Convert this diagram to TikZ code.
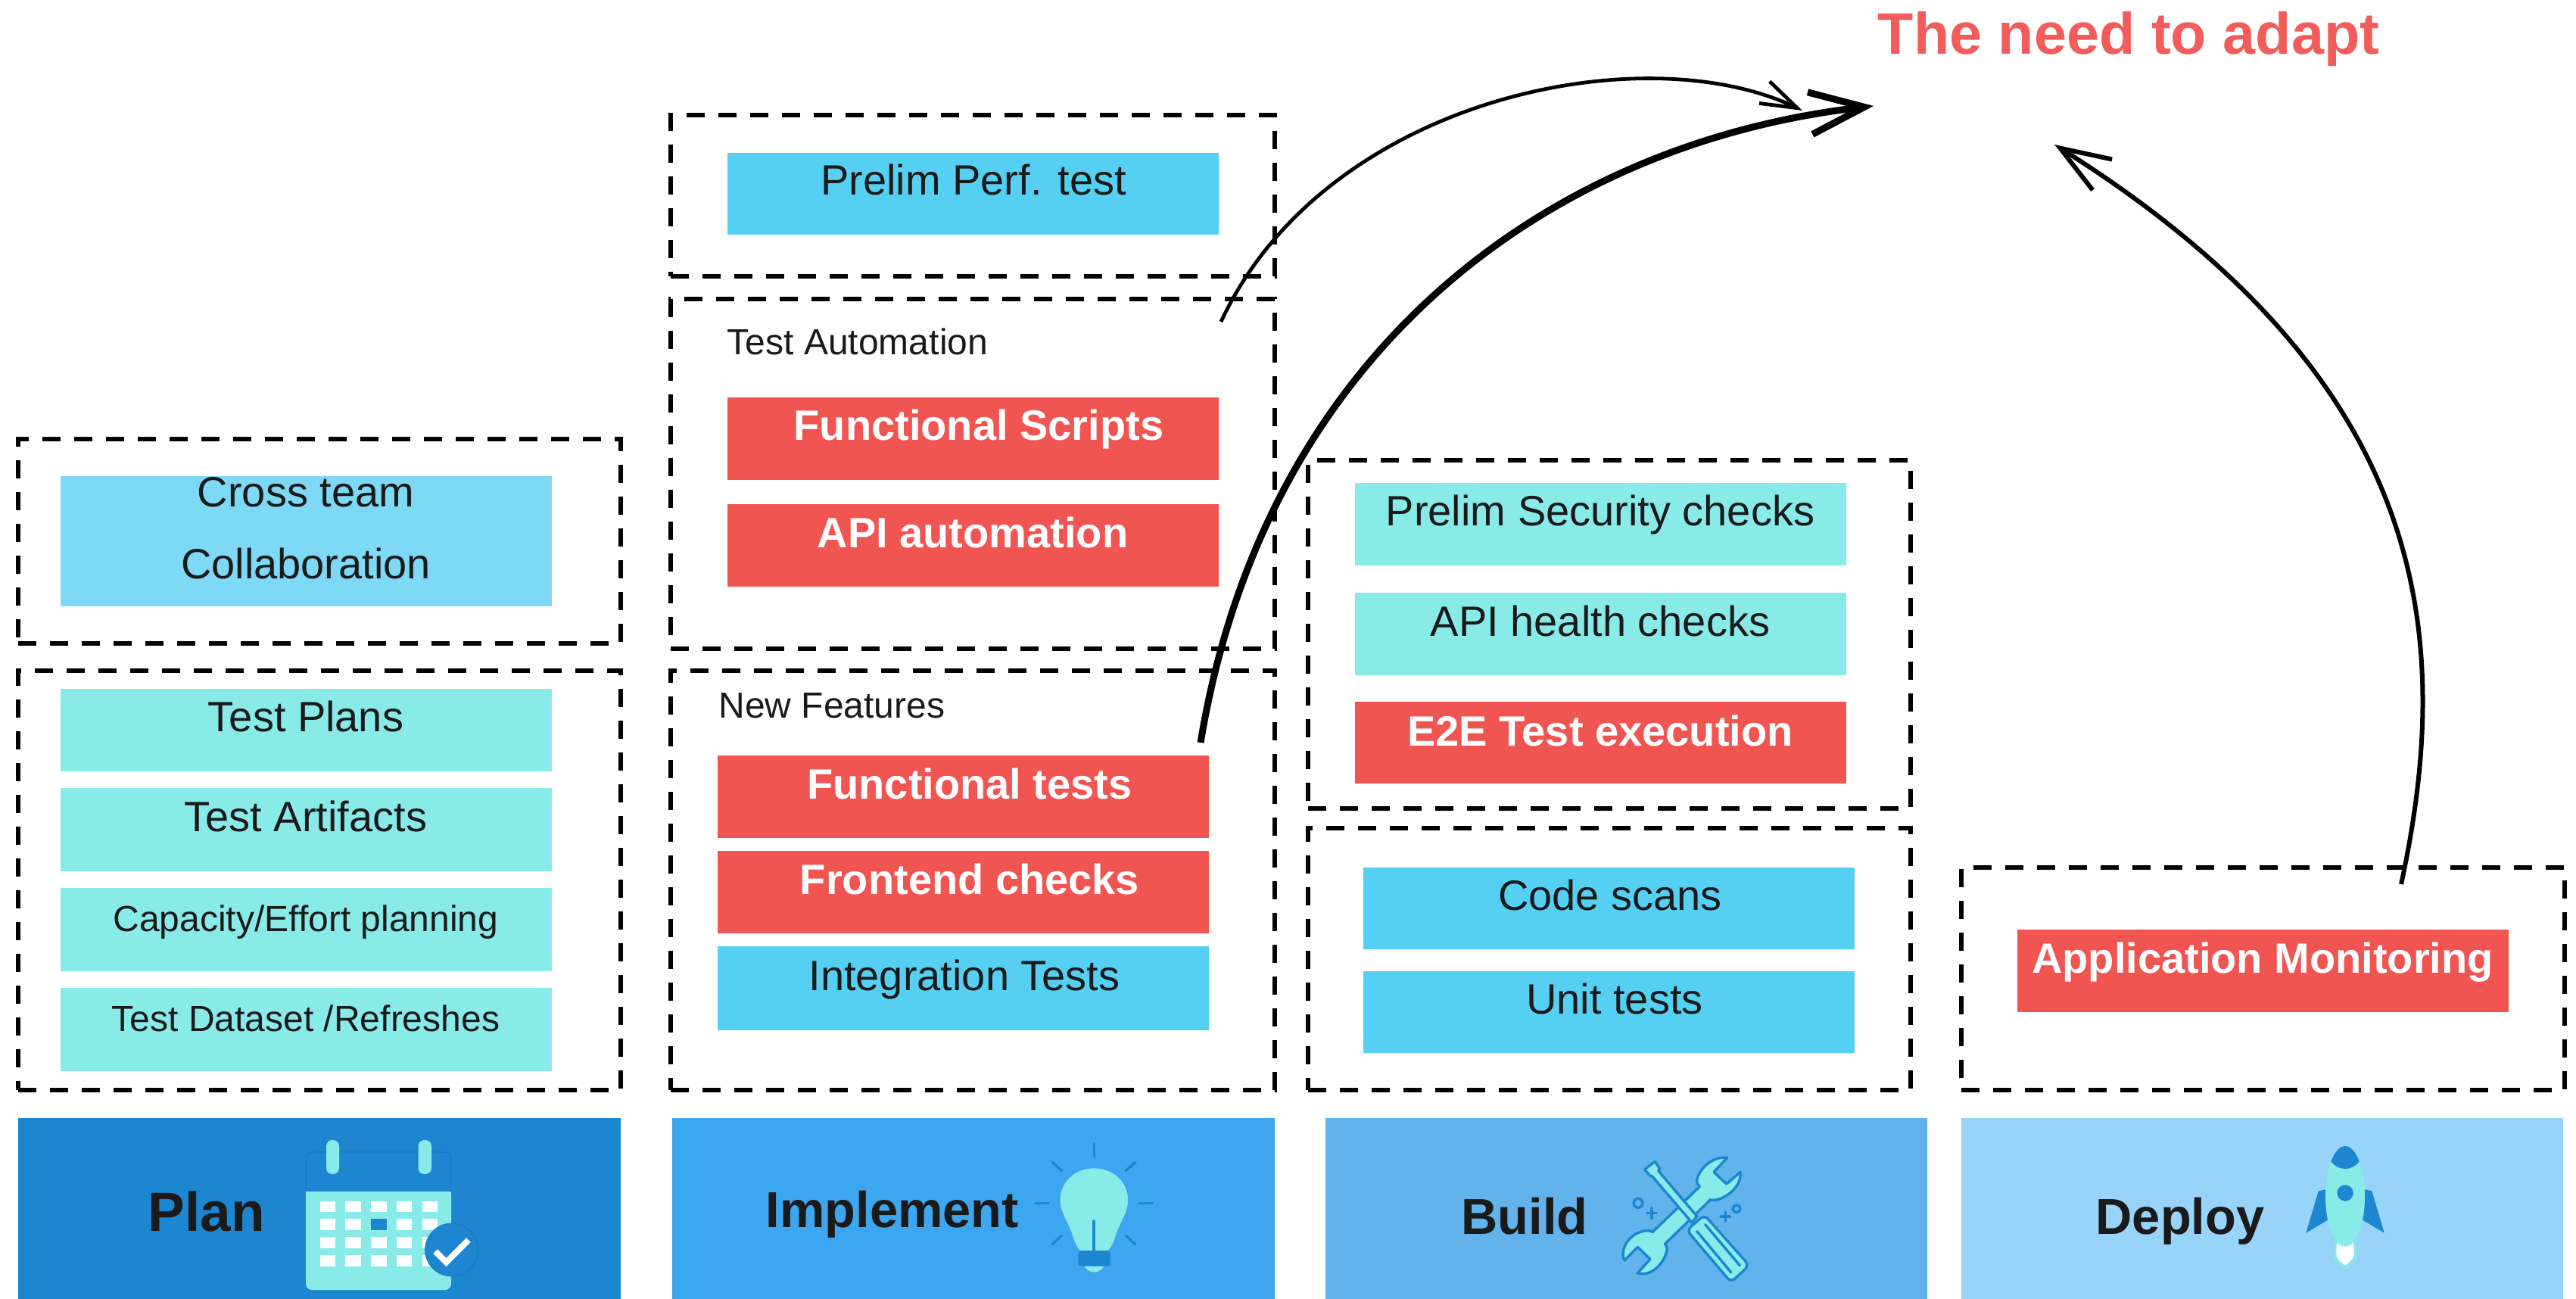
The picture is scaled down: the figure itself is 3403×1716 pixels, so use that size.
\documentclass[tikz,border=0pt]{standalone}
\usepackage{fontspec}
\setmainfont{Liberation Sans}
\usetikzlibrary{arrows.meta}
\definecolor{barA}{HTML}{1C87D0}
\definecolor{barB}{HTML}{3DA6F0}
\definecolor{barC}{HTML}{62B2EC}
\definecolor{barD}{HTML}{98D3FA}
\definecolor{tealbox}{HTML}{88EBE8}
\definecolor{bluebox}{HTML}{56D0F2}
\definecolor{lightbox}{HTML}{7DD9F5}
\definecolor{redbox}{HTML}{F05552}
\definecolor{titlered}{HTML}{F25C5A}
\definecolor{ink}{HTML}{1A1A1A}
\tikzset{
  blockbox/.style={anchor=north west,inner sep=0pt,outer sep=0pt,draw=none,fill=#1},
  dashbox/.style={anchor=north west,inner sep=0pt,outer sep=0pt,draw=black,line width=2.6pt,dash pattern=on 12pt off 9pt},
  txt/.style={anchor=base,text=ink,inner sep=0pt,font=\fontsize{28}{30}\selectfont},
  smalltxt/.style={txt,font=\fontsize{24}{26}\selectfont},
  boldtxt/.style={anchor=base,text=white,inner sep=0pt,font=\fontsize{28}{30}\selectfont\bfseries},
  headtxt/.style={anchor=base,text=ink,inner sep=0pt,font=\fontsize{33.4}{40}\selectfont\bfseries},
  iconline/.style={draw=barA,line width=1.7pt,line cap=round,line join=round},
}
\newcommand{\rbox}[6]{\node[#6,minimum width={(#4-#2)*0.5pt},minimum height={(#5-#3)*0.5pt}] (#1) at (#2,#3) {};}
\begin{document}
\begin{tikzpicture}[x=0.5pt,y=-0.5pt]
\useasboundingbox (0,0) rectangle (3403,1716);
% bottom bars
\rbox{barplan}{24}{1477}{820}{1716}{blockbox=barA}
\rbox{barimpl}{888}{1477}{1684}{1716}{blockbox=barB}
\rbox{barbuild}{1751}{1477}{2546}{1716}{blockbox=barC}
\rbox{bardeploy}{2591}{1477}{3386}{1716}{blockbox=barD}
\node[headtxt,font=\fontsize{36.5}{40}\selectfont\bfseries] (tplan) at (273,1626) {Plan};
\node[headtxt] (timpl) at (1179,1621) {Implement};
\node[headtxt] (tbuild) at (2014,1630) {Build};
\node[headtxt] (tdeploy) at (2880,1630) {Deploy};
% dashed groups
\rbox{d1}{24}{580}{820}{850}{dashbox}
\rbox{d2}{24}{886}{820}{1440}{dashbox}
\rbox{d3}{886}{152}{1684}{365}{dashbox}
\rbox{d4}{886}{395}{1684}{857}{dashbox}
\rbox{d5}{886}{886}{1684}{1440}{dashbox}
\rbox{d6}{1728}{608}{2524}{1068}{dashbox}
\rbox{d7}{1728}{1094}{2524}{1440}{dashbox}
\rbox{d8}{2591}{1146}{3388}{1440}{dashbox}
% plan column
\rbox{b1}{80}{629}{729}{801}{blockbox=lightbox}
\node[txt] (t1a) at (404,669) {Cross team};
\node[txt] (t1b) at (404,764) {Collaboration};
\rbox{b2}{80}{910}{729}{1019}{blockbox=tealbox}
\node[txt] (t2) at (404,966) {Test Plans};
\rbox{b3}{80}{1041}{729}{1151}{blockbox=tealbox}
\node[txt] (t3) at (404,1098) {Test Artifacts};
\rbox{b4}{80}{1173}{729}{1283}{blockbox=tealbox}
\node[smalltxt] (t4) at (404,1230) {Capacity/Effort planning};
\rbox{b5}{80}{1305}{729}{1415}{blockbox=tealbox}
\node[smalltxt] (t5) at (404,1362) {Test Dataset /Refreshes};
% implement column
\rbox{b6}{961}{202}{1610}{310}{blockbox=bluebox}
\node[txt] (t6) at (1286,258) {Prelim Perf. test};
\node[smalltxt] (t7) at (1133,469) {Test Automation};
\rbox{b8}{961}{525}{1610}{634}{blockbox=redbox}
\node[boldtxt] (t8) at (1293,582) {Functional Scripts};
\rbox{b9}{961}{666}{1610}{775}{blockbox=redbox}
\node[boldtxt] (t9) at (1285,723) {API automation};
\node[smalltxt] (t10) at (1099,948) {New Features};
\rbox{b11}{948}{998}{1597}{1107}{blockbox=redbox}
\node[boldtxt] (t11) at (1281,1055) {Functional tests};
\rbox{b12}{948}{1124}{1597}{1233}{blockbox=redbox}
\node[boldtxt] (t12) at (1281,1181) {Frontend checks};
\rbox{b13}{948}{1250}{1597}{1361}{blockbox=bluebox}
\node[txt] (t13) at (1274,1308) {Integration Tests};
% build column
\rbox{b14}{1790}{638}{2439}{747}{blockbox=tealbox}
\node[txt] (t14) at (2114,695) {Prelim Security checks};
\rbox{b15}{1790}{783}{2439}{892}{blockbox=tealbox}
\node[txt] (t15) at (2114,840) {API health checks};
\rbox{b16}{1790}{927}{2439}{1035}{blockbox=redbox}
\node[boldtxt] (t16) at (2114,985) {E2E Test execution};
\rbox{b17}{1801}{1146}{2450}{1254}{blockbox=bluebox}
\node[txt] (t17) at (2127,1202) {Code scans};
\rbox{b18}{1801}{1283}{2450}{1391}{blockbox=bluebox}
\node[txt] (t18) at (2133,1339) {Unit tests};
% deploy
\rbox{b19}{2665}{1228}{3314}{1337}{blockbox=redbox}
\node[boldtxt] (t19) at (2989,1285) {Application Monitoring};
% title
\node[anchor=base,inner sep=0pt,text=titlered,font=\fontsize{38.7}{42}\selectfont\bfseries] (title) at (2812,72) {The need to adapt};
% arrows
\coordinate (a1s) at (1613,425);
\coordinate (a1e) at (2381,146);
\coordinate (a2s) at (1586,981);
\coordinate (a2e) at (2475,140);
\coordinate (a3s) at (3172,1168);
\coordinate (a3e) at (2714,191);
\draw[line width=2.4pt,-{Straight Barb[length=24pt,width=16pt]}] (a1s) .. controls (1750,130) and (2170,45) .. (a1e);
\draw[line width=4.5pt,-{Straight Barb[length=36pt,width=28pt]}] (a2s) .. controls (1670,470) and (2040,190) .. (a2e);
\draw[line width=3pt,-{Straight Barb[length=33pt,width=24pt]}] (a3s) .. controls (3245,830) and (3205,500) .. (a3e);
% calendar icon
\draw[barA!85!black,line width=0.3pt,rounded corners=4pt] (404,1574) -- (404,1522) -- (596,1522) -- (596,1574);
\fill[tealbox,rounded corners=4pt] (404,1574) rectangle (596,1704);
\fill[tealbox] (404,1574) rectangle (596,1590);
\foreach \a/\b in {431/448,552.5/570}{\fill[tealbox,rounded corners=4pt] (\a,1506) rectangle (\b,1551);}
\foreach \xa/\xb in {422.5/443,456/477,490/511,523.6/544,557.5/578}{
 \foreach \ya/\yb in {1587/1601,1610/1625,1634/1649,1658/1673}{
  \fill[white] (\xa,\ya) rectangle (\xb,\yb);}}
\fill[barA] (490,1610) rectangle (511,1625);
\filldraw[fill=barA,draw=barA!85!black,line width=0.3pt] (596.5,1651) circle[radius=17.5pt];
\draw[white,line width=4pt] (575,1653) -- (589.5,1667.5) -- (619,1638);
% bulb icon
\begin{scope}[shift={(1340,1460)},x=0.16667pt,y=-0.16667pt]
 \foreach \xa/\ya/\xb/\yb in {316/152/316/205,150/225/188/260,480/225/442/260,83/388/135/388,495/388/547/388,188/516/150/552,442/516/480/552}{
  \draw[iconline] (\xa,\ya) -- (\xb,\yb);}
 \fill[tealbox] (316,250) .. controls (240,250) and (182,305) .. (182,375) .. controls (182,430) and (215,460) .. (232,520) .. controls (240,545) and (250,565) .. (262,578) -- (370,578) .. controls (385,560) and (395,540) .. (402,515) .. controls (418,460) and (450,430) .. (450,375) .. controls (450,305) and (392,250) .. (316,250) -- cycle;
 \fill[tealbox] (275,630) .. controls (285,672) and (348,672) .. (358,630) -- cycle;
 \fill[barA,rounded corners=1.5pt] (253,576) rectangle (380,638);
 \draw[iconline,line width=2pt] (316,460) -- (316,578);
\end{scope}
% tools icon
\begin{scope}[shift={(2100,1490)},x=0.16667pt,y=-0.16667pt]
 \filldraw[fill=tealbox,iconline] (545,118) .. controls (490,110) and (435,160) .. (425,205) .. controls (423,218) and (428,226) .. (436,232) -- (250,412) .. controls (215,395) and (150,425) .. (135,480) .. controls (130,500) and (132,515) .. (138,525) -- (190,472) -- (240,520) -- (190,575) .. controls (240,590) and (290,545) .. (305,490) .. controls (308,475) and (305,465) .. (298,460) -- (478,285) .. controls (520,295) and (605,240) .. (597,175) -- (542,222) -- (492,175) -- cycle;
 \filldraw[fill=tealbox,iconline] (218,165) -- (258,133) -- (278,162) -- (272,170) -- (425,350) -- (405,375) -- (248,192) -- (238,188) -- cycle;
 \filldraw[fill=tealbox,iconline,rounded corners=3.5pt] (385,405) -- (455,345) -- (632,545) -- (560,612) -- cycle;
 \draw[iconline] (425,410) -- (560,572);
 \draw[iconline] (458,383) -- (595,545);
 \draw[iconline] (192,298) circle[radius=3pt];
 \draw[iconline] (582,320) circle[radius=2.5pt];
 \draw[iconline] (226,337) -- (266,337) (246,317) -- (246,357);
 \draw[iconline] (520,351) -- (556,351) (538,333) -- (538,369);
\end{scope}
% rocket icon
\begin{scope}[shift={(2960,1490)},x=0.16667pt,y=-0.16667pt]
 \fill[barA] (308,250) -- (336,244) -- (345,365) -- (259,416) -- cycle;
 \fill[barA] (520,250) -- (492,244) -- (483,365) -- (569,416) -- cycle;
 \fill[tealbox] (378,450) .. controls (368,480) and (368,510) .. (375,522) .. controls (385,540) and (405,555) .. (414,563) .. controls (423,555) and (443,540) .. (453,522) .. controls (460,510) and (460,480) .. (450,450) -- cycle;
 \fill[white] (385,450) .. controls (375,490) and (378,505) .. (385,518) .. controls (395,530) and (405,538) .. (414,545) .. controls (423,538) and (433,530) .. (443,518) .. controls (450,505) and (453,490) .. (443,450) -- cycle;
 \fill[tealbox] (414,271) ellipse[x radius=13pt,y radius=33.17pt];
 \begin{scope}
  \clip (414,271) ellipse[x radius=13pt,y radius=33.17pt];
  \fill[barA] (330,60) -- (500,60) -- (500,132) -- (470,132) .. controls (443,172) and (385,172) .. (358,132) -- (330,132) -- cycle;
 \end{scope}
 \fill[barA] (414,258) circle[radius=5.33pt];
\end{scope}
\end{tikzpicture}
\end{document}
